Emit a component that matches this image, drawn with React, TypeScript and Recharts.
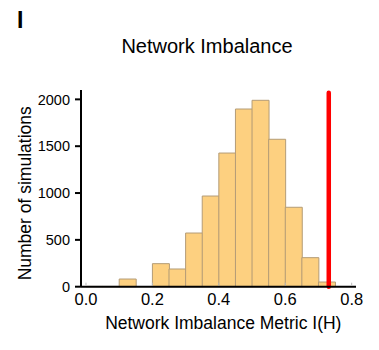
import React from "react";
import { ComposedChart, Bar, XAxis, YAxis, ReferenceLine } from "recharts";

const binStarts = [0.0, 0.05, 0.1, 0.15, 0.2, 0.25, 0.3, 0.35, 0.4, 0.45, 0.5, 0.55, 0.6, 0.65, 0.7];
const counts = [3, 3, 82, 0, 246, 189, 573, 968, 1427, 1897, 1990, 1574, 848, 310, 50];
const binWidth = 0.05;
const xTicks = [0, 0.2, 0.4, 0.6, 0.8];
const yTicks = [0, 500, 1000, 1500, 2000];
const observedImbalance = 0.731;
const observedLineTop = 2070;

const data = binStarts.map((s, i) => ({ mid: s + binWidth / 2, count: counts[i] }));

const FONT = '"Liberation Sans", Arial, Helvetica, sans-serif';
const W = 371;
const H = 342;

const XTick = (props: any) => {
  const { x, y, payload } = props;
  const axisY = y - 6.6;
  return (
    <g>
      <line x1={x} x2={x} y1={axisY - 1} y2={axisY - 4} stroke="#bbbbbb" strokeWidth={1} />
      <text x={x} y={y} dy="0.71em" textAnchor="middle" fontSize={16.5} fill="#000" fontFamily={FONT}>
        {Number(payload.value).toFixed(1)}
      </text>
    </g>
  );
};

export default function App() {
  return (
    <div style={{ position: "relative", width: W, height: H, fontFamily: FONT }}>
      <ComposedChart
        width={W}
        height={H}
        data={data}
        margin={{ top: 82, right: 23, bottom: 33.3, left: 13 }}
        barCategoryGap={0}
        barGap={0}
      >
        <XAxis
          dataKey="mid"
          type="number"
          domain={[-0.015, 0.813]}
          ticks={xTicks}
          allowDataOverflow
          height={30}
          tickLine={false}
          tickSize={0}
          tickMargin={6.6}
          tick={<XTick />}
          axisLine={{ stroke: "#000", strokeWidth: 2 }}
        />
        <YAxis
          type="number"
          domain={[0, 2100]}
          ticks={yTicks}
          width={60}
          tickSize={6}
          tickMargin={5}
          tick={{ fontSize: 14.5, fill: "#000", fontFamily: FONT }}
          tickLine={{ stroke: "#000", strokeWidth: 2 }}
          axisLine={{ stroke: "#000", strokeWidth: 2 }}
        />
        <Bar
          dataKey="count"
          fill="#fdd080"
          stroke="#b49c76"
          strokeWidth={1}
          isAnimationActive={false}
        />
        <ReferenceLine
          segment={[
            { x: observedImbalance, y: 0 },
            { x: observedImbalance, y: observedLineTop },
          ]}
          stroke="#ff0000"
          strokeWidth={4.5}
          strokeLinecap="round"
          ifOverflow="visible"
        />
      </ComposedChart>
      <svg
        width={W}
        height={H}
        style={{ position: "absolute", left: 0, top: 0, pointerEvents: "none" }}
      >
        <text x={9} y={20.3} fontSize={23} fontWeight="bold" fontFamily={FONT} fill="#000">
          I
        </text>
        <text x={199} y={45.3} fontSize={20} textAnchor="middle" fontFamily={FONT} fill="#000">
          Network Imbalance
        </text>
        <text x={215.3} y={320.5} fontSize={17.5} textAnchor="middle" fontFamily={FONT} fill="#000">
          Network Imbalance Metric I(H)
        </text>
        <text
          x={23.5}
          y={185.3}
          fontSize={17.5}
          textAnchor="middle"
          fontFamily={FONT}
          fill="#000"
          transform="rotate(-90 23.5 185.3)"
        >
          Number of simulations
        </text>
      </svg>
    </div>
  );
}
